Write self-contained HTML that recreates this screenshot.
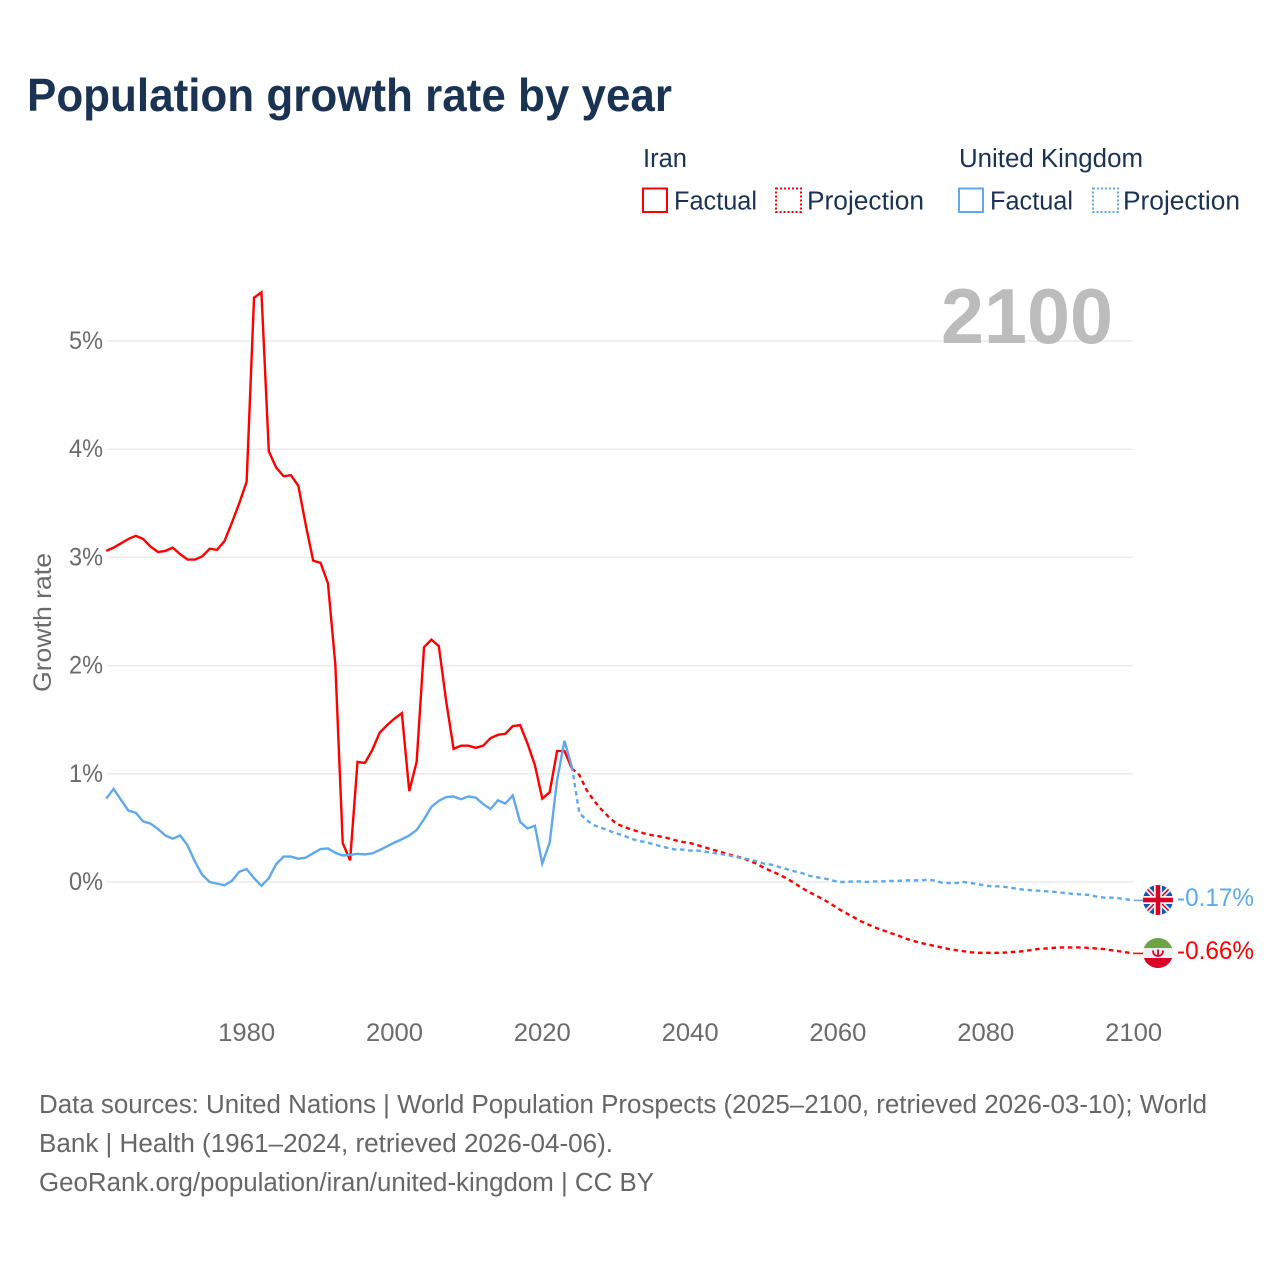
<!DOCTYPE html>
<html lang="en">
<head>
<meta charset="utf-8">
<title>Population growth rate by year</title>
<style>
html,body{margin:0;padding:0;background:#fff;width:1280px;height:1280px;overflow:hidden}
svg{display:block}
text{font-family:"Liberation Sans",sans-serif}
.legend{fill:#1a3353;font-size:25.5px}
.foot{fill:#666;font-size:25.5px}
.tick{fill:#6b6b6b;font-size:25px}
</style>
</head>
<body>
<svg id="chart" width="1280" height="1280" viewBox="0 0 1280 1280" xmlns="http://www.w3.org/2000/svg">
  <defs>
    <clipPath id="clip-uk"><circle cx="1158" cy="900" r="15"/></clipPath>
    <clipPath id="clip-ir"><circle cx="1158" cy="953" r="15"/></clipPath>
  </defs>
  <rect width="1280" height="1280" fill="#fff"/>
  <text x="27" y="111" font-size="46" font-weight="700" fill="#1a3353" textLength="645" lengthAdjust="spacingAndGlyphs">Population growth rate by year</text>

  <g>
    <text class="legend" x="643" y="167" textLength="44" lengthAdjust="spacingAndGlyphs">Iran</text>
    <text class="legend" x="959" y="167" textLength="184" lengthAdjust="spacingAndGlyphs">United Kingdom</text>
    <rect x="643" y="188.500" width="24" height="23.500" fill="none" stroke="#ff0000" stroke-width="2"/>
    <text class="legend" x="674" y="209.500" textLength="83" lengthAdjust="spacingAndGlyphs">Factual</text>
    <rect x="776" y="188.500" width="25" height="23.500" fill="none" stroke="#ff0000" stroke-width="2" stroke-dasharray="2 2"/>
    <text class="legend" x="807" y="209.500" textLength="117" lengthAdjust="spacingAndGlyphs">Projection</text>
    <rect x="959" y="188.500" width="24" height="23.500" fill="none" stroke="#5fa8ec" stroke-width="2"/>
    <text class="legend" x="990" y="209.500" textLength="83" lengthAdjust="spacingAndGlyphs">Factual</text>
    <rect x="1093" y="188.500" width="25" height="23.500" fill="none" stroke="#5fa8ec" stroke-width="2" stroke-dasharray="2 2"/>
    <text class="legend" x="1123" y="209.500" textLength="117" lengthAdjust="spacingAndGlyphs">Projection</text>
  </g>

  <g id="grid"></g>
  <text x="1113" y="343" text-anchor="end" font-size="78" font-weight="700" fill="#bcbcbc" textLength="172" lengthAdjust="spacingAndGlyphs">2100</text>
  <g id="yticks"></g>
  <g id="xticks"></g>
  <text class="tick" transform="translate(51,622.500) rotate(-90)" text-anchor="middle" textLength="139" lengthAdjust="spacingAndGlyphs">Growth rate</text>
  <g id="series"></g>

  <g clip-path="url(#clip-uk)">
    <rect x="1143" y="885" width="30" height="30" fill="#1257b5"/>
    <path d="M1143 885L1173 915M1173 885L1143 915" stroke="#f2f2f2" stroke-width="5"/>
    <path d="M1143 885L1173 915M1173 885L1143 915" stroke="#d80027" stroke-width="1.500"/>
    <path d="M1158 885V915M1143 900H1173" stroke="#f2f2f2" stroke-width="8"/>
    <path d="M1158 885V915M1143 900H1173" stroke="#d80027" stroke-width="4.500"/>
  </g>
  <g clip-path="url(#clip-ir)">
    <rect x="1143" y="938" width="30" height="30" fill="#eeeeee"/>
    <rect x="1143" y="938" width="30" height="10" fill="#6da544"/>
    <rect x="1143" y="958" width="30" height="10" fill="#d80027"/>
    <path d="M1153 950.500c0 4 2.500 5.500 5 5.500s5-1.500 5-5.500M1158 949.500v7" fill="none" stroke="#d80027" stroke-width="1.800"/>
  </g>
  <text x="1177" y="906" font-size="25" fill="#5fa8ec" textLength="77" lengthAdjust="spacingAndGlyphs">-0.17%</text>
  <text x="1177" y="959" font-size="25" fill="#ff0000" textLength="77" lengthAdjust="spacingAndGlyphs">-0.66%</text>

  <g>
    <text class="foot" x="39" y="1113" textLength="1168" lengthAdjust="spacingAndGlyphs">Data sources: United Nations | World Population Prospects (2025–2100, retrieved 2026-03-10); World</text>
    <text class="foot" x="39" y="1152" textLength="574" lengthAdjust="spacingAndGlyphs">Bank | Health (1961–2024, retrieved 2026-04-06).</text>
    <text class="foot" x="39" y="1191" textLength="615" lengthAdjust="spacingAndGlyphs">GeoRank.org/population/iran/united-kingdom | CC BY</text>
  </g>
</svg>
<script>
const factualStartYear = 1961;
const projectionStartYear = 2024;
const xTickYears = [1980, 2000, 2020, 2040, 2060, 2080, 2100];
const yTickValues = [0, 1, 2, 3, 4, 5];

const iranFactual = [
  3.06,3.09,3.13,3.17,3.20,3.17,3.10,3.05,3.06,3.09,
  3.03,2.98,2.98,3.01,3.08,3.07,3.15,3.32,3.50,3.70,
  5.40,5.45,3.98,3.83,3.75,3.76,3.66,3.30,2.97,2.95,
  2.76,2.01,0.36,0.20,1.11,1.10,1.22,1.38,1.45,1.51,
  1.56,0.84,1.11,2.17,2.24,2.18,1.67,1.23,1.26,1.26,
  1.24,1.26,1.33,1.36,1.37,1.44,1.45,1.28,1.08,0.77,
  0.83,1.21,1.21,1.05
];
const ukFactual = [
  0.77,0.86,0.76,0.66,0.64,0.56,0.54,0.49,0.43,0.40,
  0.43,0.34,0.19,0.065,0.00,-0.015,-0.03,0.01,0.095,0.12,
  0.035,-0.035,0.035,0.165,0.235,0.235,0.215,0.225,0.265,0.305,
  0.31,0.27,0.245,0.25,0.26,0.255,0.265,0.295,0.33,0.365,
  0.395,0.43,0.48,0.58,0.695,0.75,0.785,0.79,0.765,0.79,
  0.78,0.72,0.675,0.755,0.725,0.80,0.555,0.495,0.52,0.17,
  0.365,0.94,1.305,1.065
];
const iranProjection = [
  1.05,
  0.99,0.85,0.75,0.67,0.60,0.54,0.51,0.487,0.465,0.445,
  0.43,0.42,0.405,0.385,0.37,0.36,0.34,0.32,0.30,0.28,
  0.26,0.24,0.225,0.195,0.17,0.13,0.10,0.07,0.035,-0.005,
  -0.05,-0.09,-0.125,-0.16,-0.20,-0.245,
  -0.285,-0.32,-0.36,-0.39,-0.42,-0.445,-0.47,-0.49,-0.52,-0.54,
  -0.56,-0.575,-0.59,-0.605,-0.62,-0.63,-0.64,-0.65,-0.655,-0.655,
  -0.655,-0.655,-0.65,-0.645,-0.64,-0.63,-0.62,-0.615,-0.61,-0.605,
  -0.605,-0.605,-0.605,-0.61,-0.615,-0.62,-0.63,-0.64,-0.65,-0.66
];
const ukProjection = [
  1.065,
  0.64,0.57,0.525,0.50,0.475,0.45,0.43,0.40,0.38,0.37,
  0.35,0.33,0.315,0.30,0.30,0.29,0.29,0.28,0.27,0.26,
  0.25,0.235,0.22,0.21,0.19,0.17,0.16,0.14,0.12,0.10,
  0.085,0.06,0.045,0.035,0.02,0.00,
  0.00,0.005,0.005,0.00,0.005,0.005,0.01,0.01,0.015,0.015,
  0.015,0.02,0.015,-0.005,-0.01,-0.01,0.00,-0.01,-0.02,-0.035,
  -0.04,-0.04,-0.05,-0.06,-0.07,-0.075,-0.08,-0.085,-0.09,-0.095,
  -0.105,-0.11,-0.115,-0.12,-0.135,-0.145,-0.145,-0.15,-0.16,-0.17
];

const NS = 'http://www.w3.org/2000/svg';
function xScale(year) { return 106.2 + (year - 1961) * (1133.6 - 106.2) / (2100 - 1961); }
function yScale(v) { return 882 - v * 108.2; }
function pathFrom(values, startYear) {
  return values.map(function (v, i) {
    return (i ? 'L' : 'M') + xScale(startYear + i).toFixed(2) + ' ' + yScale(v).toFixed(2);
  }).join('');
}

const grid = document.getElementById('grid');
const yticks = document.getElementById('yticks');
yTickValues.forEach(function (v) {
  const line = document.createElementNS(NS, 'line');
  
  
  line.setAttribute('x1', 107);
  line.setAttribute('x2', 1133);
  line.setAttribute('y1', yScale(v));
  line.setAttribute('y2', yScale(v));
  line.setAttribute('stroke', '#ebebeb');
  line.setAttribute('stroke-width', 1.5);
  grid.appendChild(line);
  const t = document.createElementNS(NS, 'text');
  
  
  t.setAttribute('class', 'tick');
  t.setAttribute('x', 69);
  t.setAttribute('y', yScale(v) + 8);
  t.setAttribute('textLength', 34);
  t.setAttribute('lengthAdjust', 'spacingAndGlyphs');
  t.textContent = v + '%';
  yticks.appendChild(t);
});

const xticks = document.getElementById('xticks');
xTickYears.forEach(function (year) {
  const t = document.createElementNS(NS, 'text');
  
  
  t.setAttribute('class', 'tick');
  t.setAttribute('x', xScale(year) - 28.5);
  t.setAttribute('y', 1041);
  t.setAttribute('textLength', 57);
  t.setAttribute('lengthAdjust', 'spacingAndGlyphs');
  t.textContent = year;
  xticks.appendChild(t);
});

const seriesGroup = document.getElementById('series');
function addLine(values, startYear, color, dashed, name) {
  const p = document.createElementNS(NS, 'path');
  
  
  p.setAttribute('d', pathFrom(values, startYear));
  p.setAttribute('fill', 'none');
  p.setAttribute('stroke', color);
  p.setAttribute('stroke-width', 2.4);
  p.setAttribute('stroke-linejoin', 'miter');
  if (dashed) p.setAttribute('stroke-dasharray', '4.5 3.7');
  seriesGroup.appendChild(p);
}
function addConnector(value, color, name) {
  const l = document.createElementNS(NS, 'line');
  
  
  l.setAttribute('x1', xScale(2100));
  l.setAttribute('x2', 1143);
  l.setAttribute('y1', yScale(value));
  l.setAttribute('y2', yScale(value));
  l.setAttribute('stroke', color);
  l.setAttribute('stroke-width', 1.5);
  seriesGroup.appendChild(l);
}
addLine(iranFactual, factualStartYear, '#ff0000', false, 'iran-factual-line');
addLine(iranProjection, projectionStartYear, '#ff0000', true, 'iran-projection-line');
addLine(ukFactual, factualStartYear, '#5fa8ec', false, 'uk-factual-line');
addLine(ukProjection, projectionStartYear, '#5fa8ec', true, 'uk-projection-line');
addConnector(iranProjection[iranProjection.length - 1], '#ff0000', 'iran-flag-connector');
addConnector(ukProjection[ukProjection.length - 1], '#5fa8ec', 'uk-flag-connector');
</script>
</body>
</html>
